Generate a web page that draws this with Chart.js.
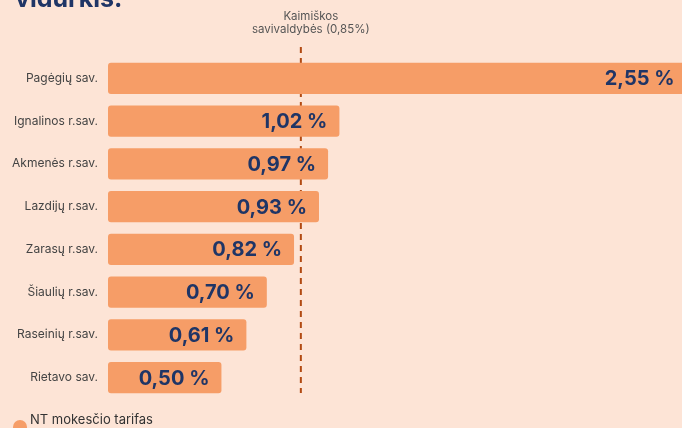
<!DOCTYPE html>
<html>
<head>
<meta charset="utf-8">
<script src="https://cdn.jsdelivr.net/npm/chart.js@4.4.1/dist/chart.umd.min.js"></script>
<style>
  html, body { margin: 0; padding: 0; background: #fde4d6; }
  #wrap { width: 682px; height: 428px; position: relative; }
</style>
</head>
<body>
<div id="wrap"><canvas id="chart" width="682" height="428"></canvas></div>
<script>
// data
const municipalities = ["Pagėgių sav.", "Ignalinos r.sav.", "Akmenės r.sav.", "Lazdijų r.sav.", "Zarasų r.sav.", "Šiaulių r.sav.", "Raseinių r.sav.", "Rietavo sav."];
const taxRates = [2.55, 1.02, 0.97, 0.93, 0.82, 0.70, 0.61, 0.50];
const ruralAverage = 0.85;
const ruralLabel = ["Kaimiškos", "savivaldybės (0,85%)"];
const seriesName = "NT mokesčio tarifas";
const titleTail = "vidurkis.";

const navy = "#1f3566";
const barColor = "#f69d67";

const fmt = v => v.toFixed(2).replace(".", ",") + " %";

//draws labels, reference line, title and legend
const decor = {
    id: "decor",
    beforeDatasetsDraw(chart) {
        const ctx = chart.ctx;
        const x = chart.scales.x.getPixelForValue(ruralAverage);
        ctx.save();
        ctx.strokeStyle = "#b24a12";
        ctx.lineWidth = 2;
        ctx.setLineDash([6, 5]);
        ctx.beginPath();
        ctx.moveTo(x, 47);
        ctx.lineTo(x, 393);
        ctx.stroke();
        ctx.setLineDash([]);
        ctx.fillStyle = "#555";
        ctx.font = "11.5px Inter";
        ctx.textAlign = "center";
        ctx.fillText(ruralLabel[0], x + 10, 20);
        ctx.fillText(ruralLabel[1], x + 10, 33);
        ctx.restore();
    },
    afterDatasetsDraw(chart) {
        const ctx = chart.ctx;
        const xs = chart.scales.x, ys = chart.scales.y;
        ctx.save();
        // category labels
        ctx.fillStyle = "#444";
        ctx.font = "12px Inter";
        ctx.textAlign = "right";
        ctx.textBaseline = "middle";
        municipalities.forEach((m, i) => {
            ctx.fillText(m, 98, ys.getPixelForValue(i));
        });
        // value labels
        ctx.fillStyle = navy;
        ctx.font = "bold 20px Inter";
        taxRates.forEach((v, i) => {
            ctx.fillText(fmt(v), xs.getPixelForValue(v) - 12, ys.getPixelForValue(i) + 1);
        });
        // cut-off title
        ctx.textAlign = "left";
        ctx.textBaseline = "alphabetic";
        ctx.font = "bold 25px Inter";
        ctx.fillText(titleTail, 15, 7);
        // legend
        ctx.fillStyle = barColor;
        ctx.beginPath();
        ctx.arc(20, 427, 7, 0, Math.PI * 2);
        ctx.fill();
        ctx.fillStyle = "#333";
        ctx.font = "13px Inter";
        ctx.textBaseline = "middle";
        ctx.fillText(seriesName, 30, 420);
        ctx.restore();
    }
};

new Chart(document.getElementById("chart"), {
    type: "bar",
    data: {
        labels: municipalities,
        datasets: [{
            label: seriesName,
            data: taxRates,
            backgroundColor: barColor,
            borderRadius: 3,
            borderSkipped: false,
            barPercentage: 0.726,
            categoryPercentage: 1
        }]
    },
    options: {
        indexAxis: "y",
        responsive: false,
        animation: false,
        layout: { padding: { left: 108, right: 0, top: 57, bottom: 29 } },
        scales: {
            x: { display: false, min: 0, max: 2.53 },
            y: { display: false }
        },
        plugins: {
            legend: { display: false },
            tooltip: { enabled: false }
        }
    },
    plugins: [decor]
});
</script>
</body>
</html>
